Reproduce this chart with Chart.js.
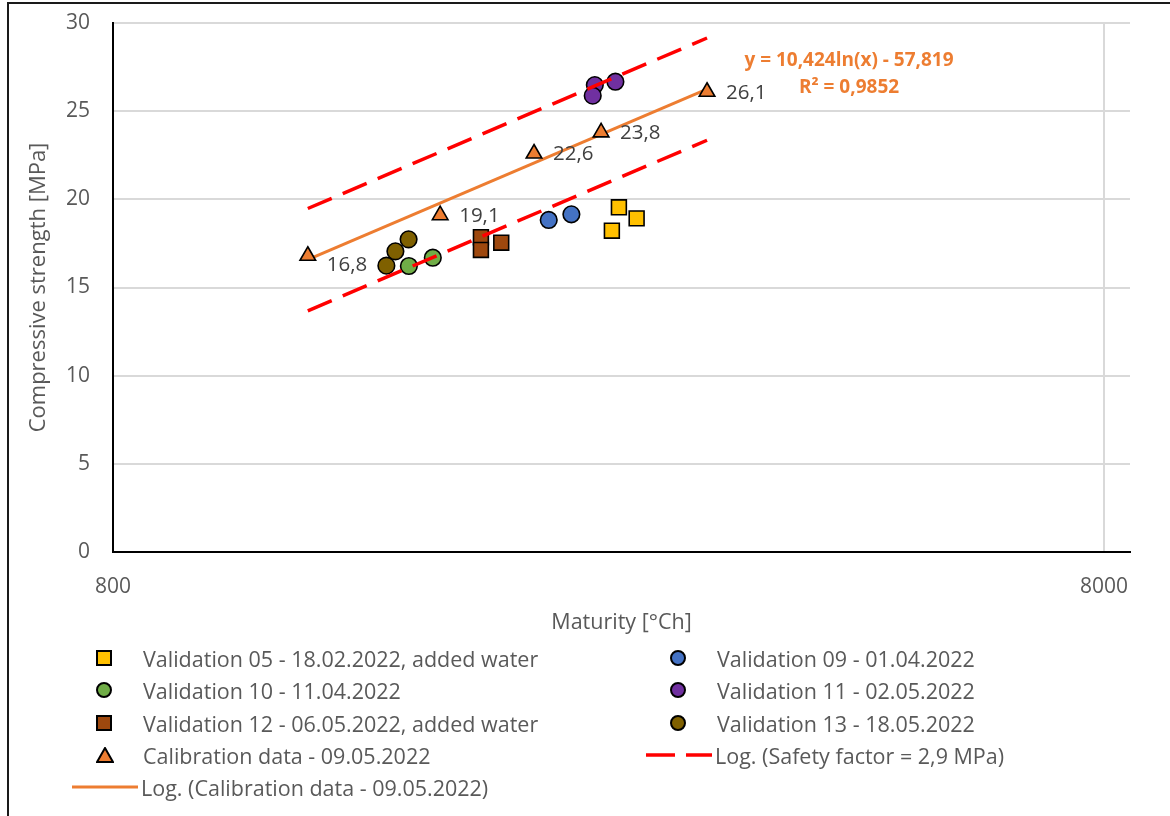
<!DOCTYPE html>
<html>
<head>
<meta charset="utf-8">
<script src="https://cdn.jsdelivr.net/npm/chart.js@4.4.1/dist/chart.umd.min.js"></script>
<style>
  body { margin: 0; background: #fff; font-family: 'Open Sans', sans-serif; }
  #wrap { position: relative; width: 1170px; height: 816px; overflow: hidden; }
  #frame { position: absolute; left: 7px; top: 2px; width: 1200px; height: 900px;
           border-left: 2px solid #1a1a1a; border-top: 2px solid #1a1a1a; }
  #chart { position: absolute; left: 0; top: 0; }
  .lg-text { position: absolute; color: #595959; font-size: 21.5px; white-space: nowrap;
             transform: translateY(-50%); }
  .lg-icon { position: absolute; transform: translateY(-50%); line-height: 0; }
</style>
</head>
<body>
<div id="wrap">
  <div id="frame"></div>
  <canvas id="chart" width="1170" height="816"></canvas>
  <div id="legend"></div>
</div>
<script>
// axis ticks
const xTicks = [800, 8000];
const yTicks = [0, 5, 10, 15, 20, 25, 30];

// calibration (maturity [°Ch], strength [MPa])
const calX = [1258, 1711, 2128, 2487, 3181];
const calY = [16.8, 19.1, 22.6, 23.8, 26.1];

// validation castings
const v05X = [2592, 2701, 2550];
const v05Y = [19.55, 18.92, 18.22];
const v09X = [2202, 2321];
const v09Y = [18.83, 19.15];
const v10X = [1591, 1682];
const v10Y = [16.22, 16.69];
const v11X = [2451, 2439, 2571];
const v11Y = [26.48, 25.88, 26.67];
const v12X = [1881, 1881, 1972];
const v12Y = [17.85, 17.13, 17.54];
const v13X = [1590, 1542, 1510];
const v13Y = [17.73, 17.05, 16.24];

// log trendline of calibration data and safety band
const trendA = 10.424;
const trendB = -57.819;
const trendR2 = 0.9852;
const safety = 2.9;

const comma = (v, d) => v.toFixed(d).replace('.', ',');
const pts = (xs, ys) => xs.map((x, i) => ({ x, y: ys[i] }));
const trendEnds = [calX[0], calX[calX.length - 1]];
const trendPts = off => trendEnds.map(x => ({ x, y: trendA * Math.log(x) + trendB + off }));

const GREY = '#595959';
const ORANGE = '#ED7D31';
const FONT = 'Open Sans';

function pointSet(label, xs, ys, color, style, r) {
  return {
    label, data: pts(xs, ys), showLine: false, order: 4,
    pointStyle: style, pointRadius: r, pointHoverRadius: r,
    backgroundColor: color, borderColor: '#000', borderWidth: 1.6
  };
}

const datasets = [
  pointSet('Validation 05 - 18.02.2022, added water', v05X, v05Y, '#FFC000', 'rect', 10.5),
  pointSet('Validation 09 - 01.04.2022', v09X, v09Y, '#4472C4', 'circle', 8.3),
  pointSet('Validation 10 - 11.04.2022', v10X, v10Y, '#70AD47', 'circle', 8.3),
  pointSet('Validation 11 - 02.05.2022', v11X, v11Y, '#7030A0', 'circle', 8.3),
  pointSet('Validation 12 - 06.05.2022, added water', v12X, v12Y, '#9E480E', 'rect', 10.5),
  pointSet('Validation 13 - 18.05.2022', v13X, v13Y, '#7F6000', 'circle', 8.3),
  Object.assign(pointSet('Calibration data - 09.05.2022', calX, calY, ORANGE, 'triangle', 9), { order: 0 }),
  {
    label: 'Log. (Safety factor = ' + comma(safety, 1) + ' MPa)', data: trendPts(safety),
    showLine: true, pointRadius: 0, borderColor: '#FF0000', borderWidth: 3.5,
    borderDash: [26, 12], order: 2
  },
  {
    label: 'Log. (Calibration data - 09.05.2022)', data: trendPts(0),
    showLine: true, pointRadius: 0, borderColor: ORANGE, borderWidth: 3, order: 1
  },
  {
    label: '', legendHide: true, data: trendPts(-safety),
    showLine: true, pointRadius: 0, borderColor: '#FF0000', borderWidth: 3.5,
    borderDash: [26, 12], order: 2
  }
];

// value labels next to calibration points + trendline equation
const annotations = {
  id: 'annotations',
  afterDatasetsDraw(chart) {
    const { ctx, chartArea: a } = chart;
    const meta = chart.getDatasetMeta(6);
    ctx.save();
    ctx.font = `20.5px "${FONT}"`;
    ctx.fillStyle = '#404040';
    ctx.textAlign = 'left';
    ctx.textBaseline = 'middle';
    meta.data.forEach((p, i) => {
      const dy = i === 0 ? 9 : 1;
      ctx.fillText(comma(calY[i], 1), p.x + 19, p.y + dy);
    });
    ctx.font = `bold 19px "${FONT}"`;
    ctx.fillStyle = ORANGE;
    ctx.textAlign = 'center';
    const cx = a.left + a.width * 0.7237;
    ctx.fillText('y = ' + comma(trendA, 3) + 'ln(x) - ' + comma(-trendB, 3), cx, a.top + 38);
    ctx.fillText('R² = ' + comma(trendR2, 4), cx, a.top + 65);
    ctx.restore();
  }
};

const chart = new Chart(document.getElementById('chart'), {
  type: 'scatter',
  data: { datasets },
  options: {
    responsive: false,
    animation: false,
    devicePixelRatio: 1,
    layout: { padding: { left: 26, top: 23, right: 40, bottom: 176 } },
    plugins: { legend: { display: false }, tooltip: { enabled: false } },
    scales: {
      x: {
        type: 'logarithmic', min: 800, max: 8500,
        afterBuildTicks: s => { s.ticks = xTicks.map(value => ({ value })); },
        afterFit: s => { s.height = 88; },
        ticks: { color: GREY, font: { size: 21, family: FONT }, padding: 22,
                 maxRotation: 0, autoSkip: false, callback: v => String(v) },
        grid: { color: '#D9D9D9', lineWidth: 2, drawTicks: false },
        border: { color: '#000', width: 2 },
        title: { display: true, text: 'Maturity [°Ch]', color: GREY,
                 font: { size: 21.5, family: FONT }, padding: { top: 0, bottom: 4 } }
      },
      y: {
        min: 0, max: 30,
        afterBuildTicks: s => { s.ticks = yTicks.map(value => ({ value })); },
        afterFit: s => { s.width = 87; s.paddingTop = 0; s.paddingBottom = 0; },
        ticks: { color: GREY, font: { size: 21, family: FONT }, padding: 23 },
        grid: { color: '#D9D9D9', lineWidth: 2, drawTicks: false },
        border: { color: '#000', width: 2 },
        title: { display: true, text: 'Compressive strength [MPa]', color: GREY,
                 font: { size: 22, family: FONT }, padding: { top: 0, bottom: 0 } }
      }
    }
  },
  plugins: [annotations]
});

// two-column legend under the plot
function iconSvg(ds) {
  if (ds.showLine) {
    const dash = ds.borderDash ? ` stroke-dasharray="29 11"` : '';
    return `<svg width="66" height="8"><line x1="0" y1="4" x2="66" y2="4" stroke="${ds.borderColor}" stroke-width="${ds.borderWidth}"${dash}/></svg>`;
  }
  const f = ds.backgroundColor;
  if (ds.pointStyle === 'rect')
    return `<svg width="16" height="16"><rect x="1" y="1" width="14" height="14" fill="${f}" stroke="#000" stroke-width="2"/></svg>`;
  if (ds.pointStyle === 'circle')
    return `<svg width="16" height="16"><circle cx="8" cy="8" r="7" fill="${f}" stroke="#000" stroke-width="2"/></svg>`;
  return `<svg width="18" height="16"><polygon points="9,1 17,15 1,15" fill="${f}" stroke="#000" stroke-width="2"/></svg>`;
}

const legendEl = document.getElementById('legend');
const textLeft = [143, 717];
chart.data.datasets.filter(ds => !ds.legendHide).forEach((ds, i) => {
  const col = i % 2, row = Math.floor(i / 2);
  const cy = 658 + row * 32.3;
  const icon = document.createElement('div');
  icon.className = 'lg-icon';
  icon.innerHTML = iconSvg(ds);
  icon.style.top = cy + 'px';
  icon.style.left = (ds.showLine ? textLeft[col] - 71 : textLeft[col] - 47) + 'px';
  const txt = document.createElement('div');
  txt.className = 'lg-text';
  txt.textContent = ds.label;
  txt.style.top = cy + 'px';
  txt.style.left = (ds.showLine ? textLeft[col] - 2 : textLeft[col]) + 'px';
  legendEl.appendChild(icon);
  legendEl.appendChild(txt);
});
</script>
</body>
</html>
